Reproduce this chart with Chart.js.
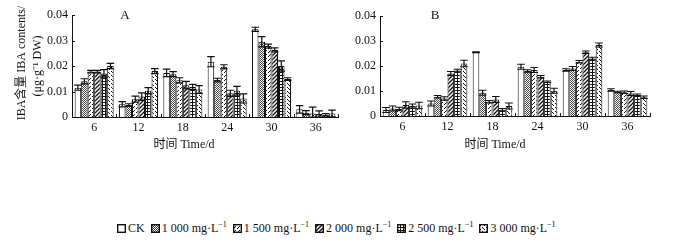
<!DOCTYPE html>
<html>
<head>
<meta charset="utf-8">
<script src="https://cdn.jsdelivr.net/npm/chart.js@4.4.1/dist/chart.umd.min.js"></script>
<style>
  body { margin: 0; background: #fff; }
  #wrap { position: relative; width: 684px; height: 242px; }
  .box { position: absolute; top: 0; height: 160px; }
  #boxA { left: 0; width: 340px; }
  #boxB { left: 340px; width: 344px; }
  #legend { position: absolute; left: 117px; top: 221px; display: flex; align-items: center; white-space: nowrap;
            font: 12px "Liberation Serif", "Noto Sans CJK SC", serif; color: #111; }
  .item { display: flex; align-items: center; margin-right: 6px; }
  .item canvas { margin-right: 2px; }
  sup { font-size: 8px; vertical-align: 5px; line-height: 0; }
</style>
</head>
<body>
<div id="wrap">
  <div class="box" id="boxA"><canvas id="chartA"></canvas></div>
  <div class="box" id="boxB"><canvas id="chartB"></canvas></div>
  <div id="legend"></div>
</div>
<script>
// 数据
const days = ['6', '12', '18', '24', '30', '36'];
const seriesNames = ['CK', '1 000 mg·L', '1 500 mg·L', '2 000 mg·L', '2 500 mg·L', '3 000 mg·L'];
const yTicks = [0, 0.01, 0.02, 0.03, 0.04];

// A: 每个浓度在 6..36 d 的均值
const aCK   = [0.0115, 0.0050, 0.0173, 0.0217, 0.0344, 0.0030];
const a1000 = [0.0140, 0.0047, 0.0168, 0.0145, 0.0295, 0.0017];
const a1500 = [0.0178, 0.0070, 0.0144, 0.0197, 0.0278, 0.0014];
const a2000 = [0.0178, 0.0080, 0.0125, 0.0093, 0.0263, 0.0012];
const a2500 = [0.0171, 0.0103, 0.0118, 0.0103, 0.0200, 0.0008];
const a3000 = [0.0200, 0.0180, 0.0108, 0.0073, 0.0149, 0.0014];
// A: 误差
const aCKErr   = [0.0010, 0.0010, 0.0015, 0.0020, 0.0008, 0.0015];
const a1000Err = [0.0010, 0.0005, 0.0010, 0.0007, 0.0020, 0.0008];
const a1500Err = [0.0005, 0.0012, 0.0010, 0.0008, 0.0008, 0.0025];
const a2000Err = [0.0005, 0.0015, 0.0015, 0.0012, 0.0008, 0.0012];
const a2500Err = [0.0015, 0.0012, 0.0010, 0.0017, 0.0020, 0.0005];
const a3000Err = [0.0010, 0.0010, 0.0015, 0.0018, 0.0005, 0.0013];

// B
const bCK   = [0.0024, 0.0050, 0.0255, 0.0197, 0.0184, 0.0104];
const b1000 = [0.0030, 0.0077, 0.0093, 0.0180, 0.0190, 0.0096];
const b1500 = [0.0028, 0.0070, 0.0057, 0.0184, 0.0217, 0.0095];
const b2000 = [0.0044, 0.0170, 0.0066, 0.0157, 0.0255, 0.0090];
const b2500 = [0.0040, 0.0182, 0.0025, 0.0137, 0.0230, 0.0084];
const b3000 = [0.0042, 0.0210, 0.0040, 0.0101, 0.0284, 0.0075];
const bCKErr   = [0.0010, 0.0010, 0.0002, 0.0010, 0.0005, 0.0005];
const b1000Err = [0.0010, 0.0005, 0.0010, 0.0005, 0.0008, 0.0003];
const b1500Err = [0.0007, 0.0007, 0.0005, 0.0010, 0.0005, 0.0005];
const b2000Err = [0.0013, 0.0008, 0.0012, 0.0005, 0.0005, 0.0008];
const b2500Err = [0.0008, 0.0005, 0.0005, 0.0003, 0.0005, 0.0004];
const b3000Err = [0.0013, 0.0013, 0.0012, 0.0010, 0.0008, 0.0005];

const FONT = '"Liberation Serif", "Noto Sans CJK SC", serif';
const INK = '#111';

// --- 填充图案 ---
function tile(size, draw) {
    const c = document.createElement('canvas');
    c.width = size; c.height = size;
    const g = c.getContext('2d');
    g.fillStyle = '#fff';
    g.fillRect(0, 0, size, size);
    g.fillStyle = INK;
    g.strokeStyle = INK;
    draw(g, size);
    return document.createElement('canvas').getContext('2d').createPattern(c, 'repeat');
}
const fills = [
    '#ffffff',
    // 1000: 细密灰点
    tile(2, g => { g.fillStyle = '#444'; g.fillRect(0, 0, 1, 1); g.fillRect(1, 1, 1, 1); }),
    // 1500: 稀疏点阵
    tile(4, g => { g.fillRect(0, 0, 1, 1); g.fillRect(2, 2, 1, 1); g.fillRect(1, 3, 1, 1); }),
    // 2000: 斜线 /
    tile(4, g => { g.lineWidth = 1.3; g.beginPath(); g.moveTo(0, 4); g.lineTo(4, 0); g.moveTo(-1, 1); g.lineTo(1, -1); g.moveTo(3, 5); g.lineTo(5, 3); g.stroke(); }),
    // 2500: 网格
    tile(3, g => { g.fillRect(0, 0, 3, 1); g.fillRect(0, 0, 1, 3); }),
    // 3000: 虚斜线 \
    tile(4, g => { g.fillRect(0, 0, 1, 1); g.fillRect(1, 1, 1, 1); g.fillRect(3, 3, 1, 1); })
];

function makeDatasets(values, errors) {
    return values.map((v, i) => ({
        label: seriesNames[i],
        data: v,
        errors: errors[i],
        backgroundColor: fills[i],
        borderColor: INK,
        borderWidth: 1,
        categoryPercentage: 0.88,
        barPercentage: 1.0
    }));
}

// --- 误差线 ---
const errorBars = {
    id: 'errorBars',
    afterDatasetsDraw(chart) {
        const { ctx } = chart;
        const y = chart.scales.y;
        ctx.save();
        ctx.strokeStyle = INK;
        ctx.lineWidth = 1.2;
        chart.data.datasets.forEach((ds, i) => {
            chart.getDatasetMeta(i).data.forEach((bar, j) => {
                const v = ds.data[j], e = ds.errors[j];
                const yt = y.getPixelForValue(v + e);
                const yb = y.getPixelForValue(Math.max(0, v - e));
                const hw = bar.width / 2 + 0.5;
                ctx.beginPath();
                ctx.moveTo(bar.x, yt); ctx.lineTo(bar.x, yb);
                ctx.moveTo(bar.x - hw, yt); ctx.lineTo(bar.x + hw, yt);
                ctx.moveTo(bar.x - hw, yb); ctx.lineTo(bar.x + hw, yb);
                ctx.stroke();
            });
        });
        ctx.restore();
    }
};

// --- 内向刻度和文字 ---
const decorations = {
    id: 'decorations',
    afterDraw(chart, args, opts) {
        const { ctx, chartArea: a } = chart;
        const y = chart.scales.y;
        ctx.save();
        ctx.strokeStyle = INK;
        ctx.lineWidth = 1;
        ctx.beginPath();
        yTicks.forEach(t => {
            const py = Math.round(y.getPixelForValue(t)) + 0.5;
            ctx.moveTo(a.left, py); ctx.lineTo(a.left + 3, py);
        });
        const step = (a.right - a.left) / days.length;
        for (let i = 0; i <= days.length; i++) {
            const px = Math.round(a.left + i * step) + 0.5;
            ctx.moveTo(px, a.bottom); ctx.lineTo(px, a.bottom - 3);
        }
        ctx.stroke();

        ctx.fillStyle = INK;
        ctx.textAlign = 'center';
        ctx.textBaseline = 'middle';
        ctx.font = '13px ' + FONT;
        ctx.fillText(opts.letter, opts.letterX, 16);
        ctx.font = '12px ' + FONT;
        ctx.fillText('时间 Time/d', opts.titleX, 145);

        if (opts.yTitle) {
            ctx.save();
            ctx.translate(22, 63);
            ctx.rotate(-Math.PI / 2);
            ctx.fillText('IBA含量 IBA contents/', 0, 0);
            ctx.restore();
            ctx.save();
            ctx.translate(38, 66);
            ctx.rotate(-Math.PI / 2);
            ctx.fillText('(μg·g⁻¹ DW)', 0, 0);
            ctx.restore();
        }
        ctx.restore();
    }
};

function makeChart(canvas, values, errors, cfg) {
    return new Chart(canvas, {
        type: 'bar',
        data: { labels: days, datasets: makeDatasets(values, errors) },
        options: {
            responsive: true,
            maintainAspectRatio: false,
            animation: false,
            layout: { padding: cfg.padding },
            plugins: {
                legend: { display: false },
                tooltip: { enabled: false },
                decorations: { letter: cfg.letter, letterX: cfg.letterX, titleX: cfg.titleX, yTitle: cfg.yTitle }
            },
            scales: {
                x: {
                    grid: { display: false, drawTicks: false },
                    border: { display: true, color: INK, width: 1 },
                    ticks: { color: INK, padding: 4, font: { family: FONT, size: 12 } },
                    afterFit: s => { s.height = cfg.xHeight; }
                },
                y: {
                    min: 0,
                    max: 0.04,
                    afterBuildTicks: s => { s.ticks = yTicks.map(v => ({ value: v })); },
                    grid: { display: false, drawTicks: false },
                    border: { display: true, color: INK, width: 1 },
                    ticks: {
                        color: INK, padding: 4, font: { family: FONT, size: 12 },
                        callback: v => v === 0 ? '0' : v.toFixed(2)
                    },
                    afterFit: s => { s.width = cfg.yWidth; }
                }
            }
        },
        plugins: [errorBars, decorations]
    });
}

makeChart(document.getElementById('chartA'),
    [aCK, a1000, a1500, a2000, a2500, a3000],
    [aCKErr, a1000Err, a1500Err, a2000Err, a2500Err, a3000Err],
    { padding: { left: 0, right: 2, top: 15, bottom: 0 }, yWidth: 72, xHeight: 43,
      letter: 'A', letterX: 125, titleX: 184, yTitle: true });

makeChart(document.getElementById('chartB'),
    [bCK, b1000, b1500, b2000, b2500, b3000],
    [bCKErr, b1000Err, b1500Err, b2000Err, b2500Err, b3000Err],
    { padding: { left: 0, right: 34, top: 16, bottom: 0 }, yWidth: 40, xHeight: 44,
      letter: 'B', letterX: 95, titleX: 155, yTitle: false });

// --- 图例 ---
const legendEl = document.getElementById('legend');
seriesNames.forEach((name, i) => {
    const item = document.createElement('div');
    item.className = 'item';
    const sw = document.createElement('canvas');
    sw.width = 9; sw.height = 9;
    const g = sw.getContext('2d');
    g.fillStyle = fills[i];
    g.fillRect(0, 0, 9, 9);
    g.strokeStyle = INK;
    g.lineWidth = 1.4;
    g.strokeRect(0.7, 0.7, 7.6, 7.6);
    item.appendChild(sw);
    const label = document.createElement('span');
    label.innerHTML = i === 0 ? name : name + '<sup>−1</sup>';
    item.appendChild(label);
    legendEl.appendChild(item);
});
</script>
</body>
</html>
